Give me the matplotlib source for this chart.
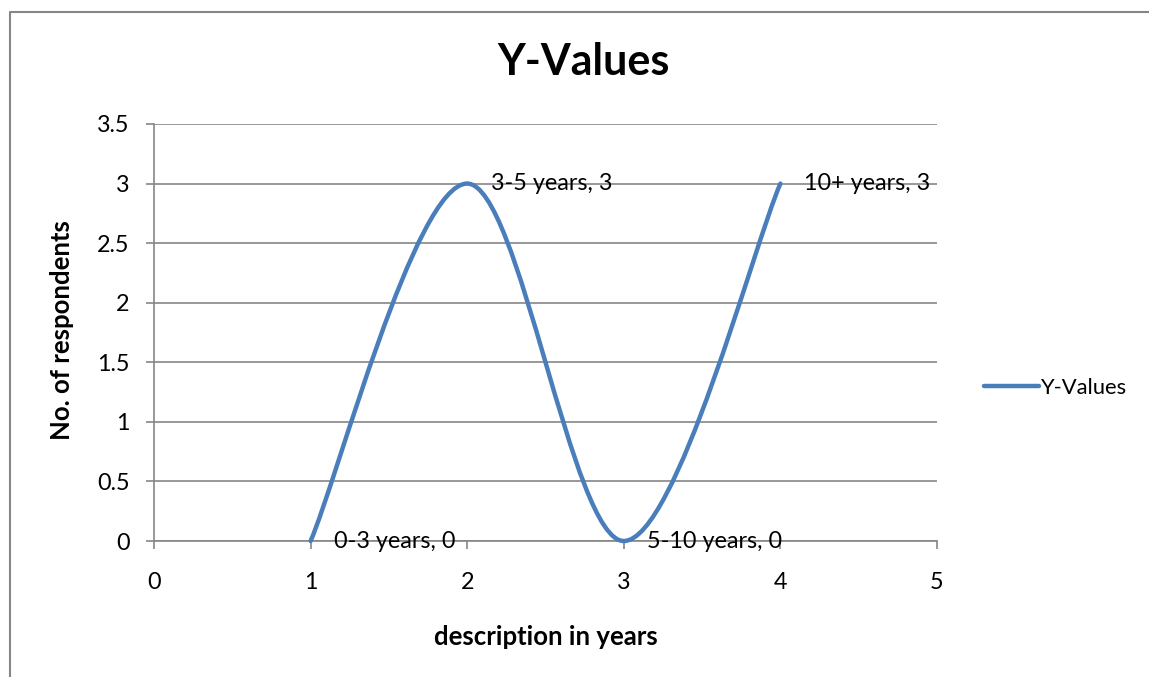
import matplotlib
matplotlib.use("Agg")
from matplotlib import pyplot as plt
from matplotlib.path import Path
from matplotlib.patches import PathPatch
from matplotlib.lines import Line2D

# data
categories = ["0-3 years", "3-5 years", "5-10 years", "10+ years"]
x_values = [1, 2, 3, 4]
y_values = [0, 3, 0, 3]
x_ticks = [0, 1, 2, 3, 4, 5]
y_ticks = [0, 0.5, 1, 1.5, 2, 2.5, 3, 3.5]

plt.rcParams["font.family"] = ["Lato", "DejaVu Sans"]
line_color = "#4A7EBB"
grid_color = "#868686"

W, H = 1149, 677
fig = plt.figure(figsize=(W / 100, H / 100), dpi=100)
ax = fig.add_axes([154 / W, 1 - 541 / H, (937 - 154) / W, (541 - 124) / H])

# chart border (Excel chart area), only left and top edges are in view
fig.lines.append(Line2D([10 / W, 10 / W, 1.0], [0.0, 1 - 12 / H, 1 - 12 / H],
                        transform=fig.transFigure, color=grid_color, lw=1.5))

# smoothed line like Excel's "scatter with smooth lines"
pts = list(zip(x_values, y_values))
n = len(pts)
verts = [pts[0]]
codes = [Path.MOVETO]
for i in range(n - 1):
    p0 = pts[max(i - 1, 0)]
    p1 = pts[i]
    p2 = pts[i + 1]
    p3 = pts[min(i + 2, n - 1)]
    c1 = (p1[0] + (p2[0] - p0[0]) / 6, p1[1] + (p2[1] - p0[1]) / 6)
    c2 = (p2[0] - (p3[0] - p1[0]) / 6, p2[1] - (p3[1] - p1[1]) / 6)
    verts += [c1, c2, p2]
    codes += [Path.CURVE4] * 3
ax.add_patch(PathPatch(Path(verts, codes), facecolor="none", edgecolor=line_color,
                       lw=3.2, capstyle="round", zorder=3, clip_on=False))

# data labels
for cat, xv, yv in zip(categories, x_values, y_values):
    ax.annotate(f"{cat}, {yv}", (xv, yv), xytext=(17, 0), textcoords="offset points",
                ha="left", va="center", fontsize=16.8, zorder=4)

ax.set_xlim(0, 5)
ax.set_ylim(0, 3.5)
ax.set_xticks(x_ticks)
ax.set_yticks(y_ticks)
ax.set_yticklabels([f"{t:g}" for t in y_ticks])
ax.yaxis.grid(True, color=grid_color, lw=1.2)
ax.set_axisbelow(True)

for side in ["top", "right"]:
    ax.spines[side].set_visible(False)
for side in ["left", "bottom"]:
    ax.spines[side].set_color(grid_color)
    ax.spines[side].set_linewidth(1.2)
ax.tick_params(axis="both", direction="out", length=5.5, width=1.2, color=grid_color,
               labelsize=16.8, labelcolor="black")
ax.tick_params(axis="y", pad=12)
ax.tick_params(axis="x", pad=17)

fig.text(584 / W, 1 - 62 / H, "Y-Values", fontsize=31, fontweight="bold",
         ha="center", va="center")
ax.set_xlabel("description in years", fontsize=18.5, fontweight="bold", va="center")
ax.xaxis.set_label_coords((546 - 154) / 783, (541 - 637) / 417)
ax.set_ylabel("No. of respondents", fontsize=18.5, fontweight="bold", va="center")
ax.yaxis.set_label_coords((62 - 154) / 783, (541 - 330) / 417)

handle = Line2D([], [], color=line_color, lw=3.2, solid_capstyle="round")
ax.legend([handle], ["Y-Values"], loc="center left",
          bbox_to_anchor=((984 - 154) / 783, (541 - 388) / 417),
          frameon=False, fontsize=15.8, handlelength=2.5, handletextpad=0.05,
          borderaxespad=0, borderpad=0)

fig.savefig("out.png", dpi=100)
